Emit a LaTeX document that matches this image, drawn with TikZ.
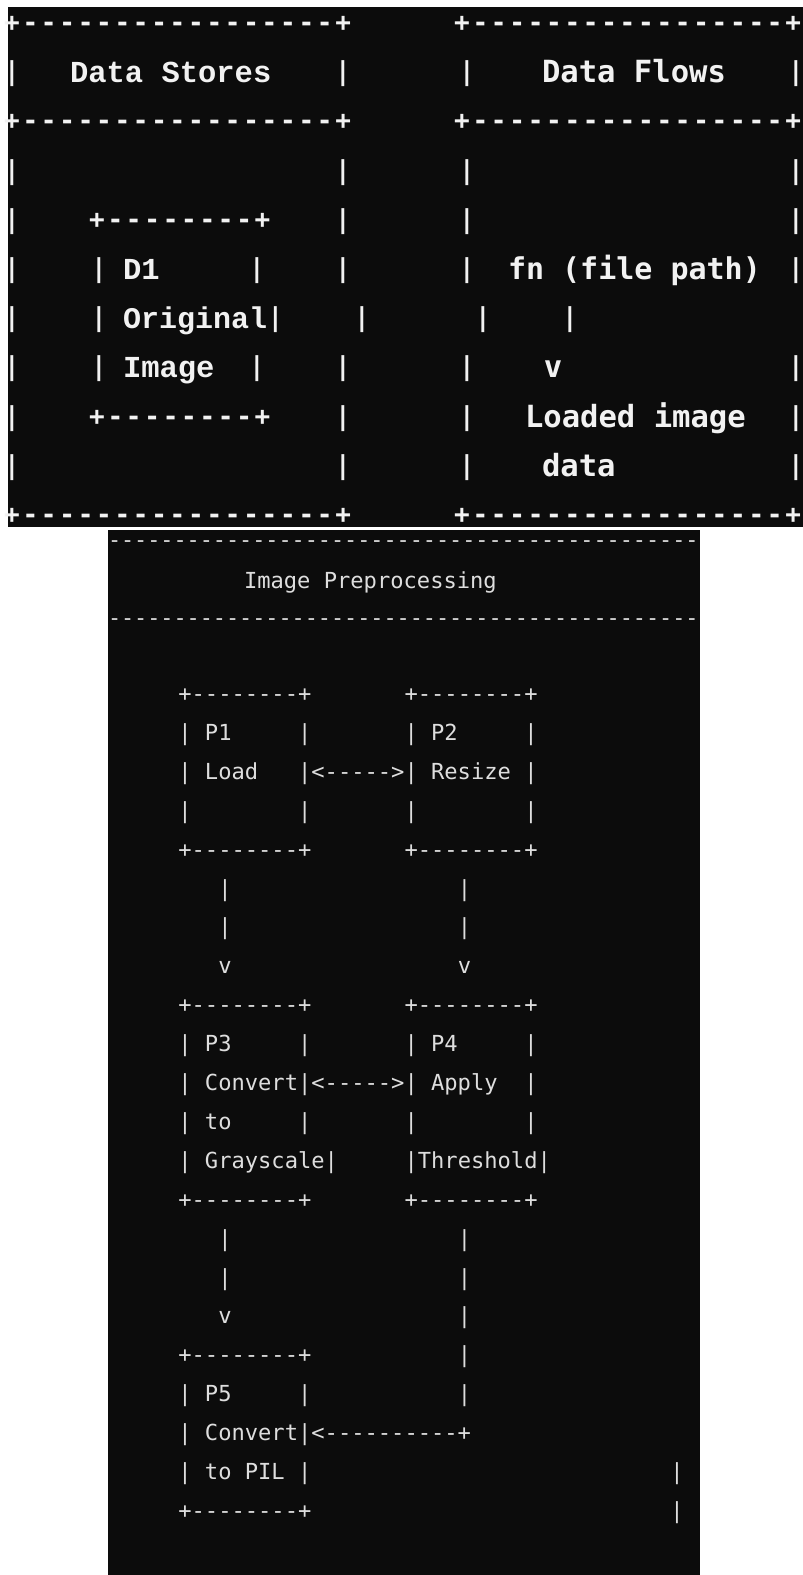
\documentclass[tikz,border=0pt]{standalone}
\usepackage{fontspec}
\setmonofont{DejaVu Sans Mono}
\newfontfamily\limono{Liberation Mono}
\definecolor{bgc}{HTML}{0C0C0C}
\definecolor{fgc}{HTML}{F2F2F2}
\definecolor{fgb}{HTML}{DEDEDE}
\newlength\cpitch
\setlength\cpitch{18.4pt}
\newcommand\pitchbox[1]{\makebox[\cpitch][c]{#1}}
\def\spreadchars#1{\ifx#1\relax\else\pitchbox{#1}\expandafter\spreadchars\fi}
\newcommand\vpipe{\makebox[6pt][c]{|}}
\tikzset{
  tt/.style={anchor=base west, inner sep=0pt, outer sep=0pt, text=fgc,
    font=\fontsize{30.56}{30.56}\selectfont\ttfamily\bfseries},
  ls/.style={tt, font=\fontsize{30.5}{30.5}\selectfont\limono\bfseries},
  brd/.style={tt, font=\fontsize{26}{26}\selectfont\ttfamily\bfseries},
  tp/.style={brd, anchor=base},
  bt/.style={anchor=base west, inner sep=0pt, outer sep=0pt, text=fgb,
    font=\fontsize{22.1}{22.1}\selectfont\ttfamily},
  hd/.style={bt, font=\fontsize{21.8}{21.8}\selectfont\ttfamily},
}
\begin{document}
\begin{tikzpicture}[x=1pt,y=-1pt]
\useasboundingbox (0,0) rectangle (803,1575);
\fill[white] (0,0) rectangle (803,1575);
\fill[bgc] (8,7) rectangle (803,527);
\fill[bgc] (108,530) rectangle (700,1575);

% ---------- top left panel: Data Stores ----------
\node[brd] (l0) at (2.8,31) {\spreadchars+-----------------+\relax};
\node[tp] (l1a) at (12,80) {\vpipe};
\node[ls] (l1b) at (70,82) {Data Stores};
\node[tp] (l1c) at (343,80) {\vpipe};
\node[brd] (l2) at (2.8,129) {\spreadchars+-----------------+\relax};
\node[tp] (l3a) at (12,179) {\vpipe};
\node[tp] (l3b) at (343,179) {\vpipe};
\node[tp] (l4a) at (12,228) {\vpipe};
\node[brd] (l4b) at (87.8,228) {\spreadchars+--------+\relax};
\node[tp] (l4c) at (343,228) {\vpipe};
\node[tp] (l5a) at (12,277) {\vpipe};
\node[tp] (l5b) at (99,277) {\vpipe};
\node[ls] (l5c) at (123,279) {D1};
\node[tp] (l5d) at (257,277) {\vpipe};
\node[tp] (l5e) at (343,277) {\vpipe};
\node[tp] (l6a) at (12,326) {\vpipe};
\node[tp] (l6b) at (99,326) {\vpipe};
\node[ls, font=\fontsize{30}{30}\selectfont\limono\bfseries] (l6c) at (123,328) {Original};
\node[tp] (l6d) at (275.5,326) {\vpipe};
\node[tp] (l6e) at (362,326) {\vpipe};
\node[tp] (l7a) at (12,375) {\vpipe};
\node[tp] (l7b) at (99,375) {\vpipe};
\node[ls] (l7c) at (123,377) {Image};
\node[tp] (l7d) at (257,375) {\vpipe};
\node[tp] (l7e) at (343,375) {\vpipe};
\node[tp] (l8a) at (12,425) {\vpipe};
\node[brd] (l8b) at (87.8,425) {\spreadchars+--------+\relax};
\node[tp] (l8c) at (343,425) {\vpipe};
\node[tp] (l9a) at (12,474) {\vpipe};
\node[tp] (l9b) at (343,474) {\vpipe};
\node[brd] (l10) at (2.8,523) {\spreadchars+-----------------+\relax};

% ---------- top right panel: Data Flows ----------
\node[brd] (r0) at (452.8,31) {\spreadchars+-----------------+\relax};
\node[tp] (r1a) at (467,80) {\vpipe};
\node[tt] (r1b) at (542,82) {Data Flows};
\node[tp] (r1c) at (796,80) {\vpipe};
\node[brd] (r2) at (452.8,129) {\spreadchars+-----------------+\relax};
\node[tp] (r3a) at (467,179) {\vpipe};
\node[tp] (r3b) at (796,179) {\vpipe};
\node[tp] (r4a) at (467,228) {\vpipe};
\node[tp] (r4b) at (796,228) {\vpipe};
\node[tp] (r5a) at (467,277) {\vpipe};
\node[tt, font=\fontsize{30}{30}\selectfont\ttfamily\bfseries] (r5b) at (508,279) {fn (file path)};
\node[tp] (r5c) at (796,277) {\vpipe};
\node[tp] (r6a) at (483,326) {\vpipe};
\node[tp] (r6b) at (570,326) {\vpipe};
\node[tp] (r7a) at (467,375) {\vpipe};
\node[tt] (r7b) at (543.8,377) {v};
\node[tp] (r7c) at (796,375) {\vpipe};
\node[tp] (r8a) at (467,425) {\vpipe};
\node[tt] (r8b) at (525,427) {Loaded image};
\node[tp] (r8c) at (796,425) {\vpipe};
\node[tp] (r9a) at (467,474) {\vpipe};
\node[tt] (r9b) at (542,476) {data};
\node[tp] (r9c) at (796,474) {\vpipe};
\node[brd] (r10) at (452.8,523) {\spreadchars+-----------------+\relax};

% ---------- bottom panel: Image Preprocessing ----------
\node[hd] (h0) at (108,547.5) {---------------------------------------------};
\node[bt] (h1) at (244,588.5) {Image~Preprocessing};
\node[hd] (h2) at (108,625.5) {---------------------------------------------};

\node[bt] (b0)  at (178.35,{701.5+38.9*0})  {+--------+~~~~~~~+--------+};
\node[bt] (b1)  at (178.35,{701.5+38.9*1})  {|~P1~~~~~|~~~~~~~|~P2~~~~~|};
\node[bt] (b2)  at (178.35,{701.5+38.9*2})  {|~Load~~~|<----->|~Resize~|};
\node[bt] (b3)  at (178.35,{701.5+38.9*3})  {|~~~~~~~~|~~~~~~~|~~~~~~~~|};
\node[bt] (b4)  at (178.35,{701.5+38.9*4})  {+--------+~~~~~~~+--------+};
\node[bt] (b5)  at (178.35,{701.5+38.9*5})  {~~~|~~~~~~~~~~~~~~~~~|};
\node[bt] (b6)  at (178.35,{701.5+38.9*6})  {~~~|~~~~~~~~~~~~~~~~~|};
\node[bt] (b7)  at (178.35,{701.5+38.9*7})  {~~~v~~~~~~~~~~~~~~~~~v};
\node[bt] (b8)  at (178.35,{701.5+38.9*8})  {+--------+~~~~~~~+--------+};
\node[bt] (b9)  at (178.35,{701.5+38.9*9})  {|~P3~~~~~|~~~~~~~|~P4~~~~~|};
\node[bt] (b10) at (178.35,{701.5+38.9*10}) {|~Convert|<----->|~Apply~~|};
\node[bt] (b11) at (178.35,{701.5+38.9*11}) {|~to~~~~~|~~~~~~~|~~~~~~~~|};
\node[bt] (b12) at (178.35,{701.5+38.9*12}) {|~Grayscale|~~~~~|Threshold|};
\node[bt] (b13) at (178.35,{701.5+38.9*13}) {+--------+~~~~~~~+--------+};
\node[bt] (b14) at (178.35,{701.5+38.9*14}) {~~~|~~~~~~~~~~~~~~~~~|};
\node[bt] (b15) at (178.35,{701.5+38.9*15}) {~~~|~~~~~~~~~~~~~~~~~|};
\node[bt] (b16) at (178.35,{701.5+38.9*16}) {~~~v~~~~~~~~~~~~~~~~~|};
\node[bt] (b17) at (178.35,{701.5+38.9*17}) {+--------+~~~~~~~~~~~|};
\node[bt] (b18) at (178.35,{701.5+38.9*18}) {|~P5~~~~~|~~~~~~~~~~~|};
\node[bt] (b19) at (178.35,{701.5+38.9*19}) {|~Convert|<----------+};
\node[bt] (b20) at (178.35,{701.5+38.9*20}) {|~to~PIL~|};
\node[bt] (b20r) at (670.45,{701.5+38.9*20}) {|};
\node[bt] (b21) at (178.35,{701.5+38.9*21}) {+--------+};
\node[bt] (b21r) at (670.45,{701.5+38.9*21}) {|};
\end{tikzpicture}
\end{document}
